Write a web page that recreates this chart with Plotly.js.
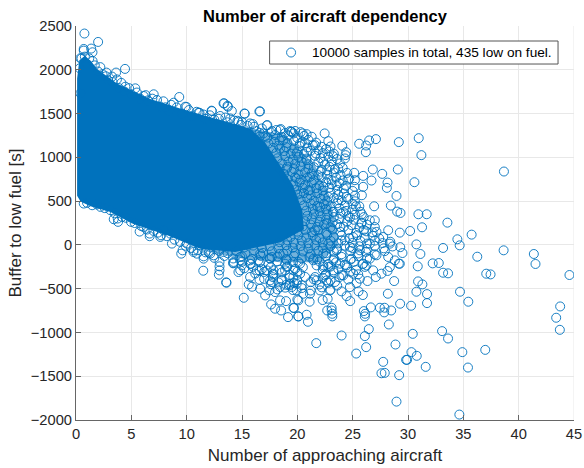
<!DOCTYPE html>
<html><head><meta charset="utf-8">
<script src="https://cdn.plot.ly/plotly-3.0.1.min.js"></script>
<style>html,body{margin:0;padding:0;background:#fff}#c{width:584px;height:468px}</style></head>
<body><div id="c"></div><script>
const titleText='Number of aircraft dependency';
const xLabel='Number of approaching aircraft';
const yLabel='Buffer to low fuel [s]';
const legendText='10000 samples in total, 435 low on fuel.';
const denseOutline=[[0.1,560],[0.1,1900],[0.3,2110],[0.8,2160],[1.35,2100],[1.9,2010],[3.74,1840],[6.72,1665],[9.69,1545],[12.76,1435],[15.73,1330],[17.09,1170],[18.44,900],[19.61,680],[20.42,400],[20.6,180],[18.5,30],[14.38,-80],[11.23,-45],[8.25,110],[5.18,240],[3.11,375],[1.31,440],[0.41,495],[0.1,560]];
const speckleOutline=[[15.73,1334],[18.89,1254],[21.6,911],[23.13,453],[23.67,-5],[22.05,-199],[18.44,-199],[14.83,-153],[11.23,-62],[15,500],[15.73,1334]];
const topEdge=[[0.76,2414],[2.0,2318],[0.7,2238],[1.37,2242],[0.7,2219],[1.49,2200],[4.43,2010],[2.75,1968],[3.62,1968],[3.26,1922],[4.46,1807],[5.36,1788],[6.11,1700],[7.02,1720],[9.33,1689],[8.82,1624],[9.99,1575],[12.25,1533],[13.39,1617],[13.72,1578],[14.08,1529],[15.25,1498],[16.63,1525],[17.24,1365],[18.5,1323],[19.34,1300],[11.07,1510],[7.32,1655],[8.07,1571],[13.03,1472],[14.59,1418],[15.97,1380],[0.5,2130],[0.8,2150],[1.2,2130],[1.5,2100],[1.7,2050],[2,1980],[2.4,1950],[2.9,1880],[3.3,1860],[3.9,1790],[4.4,1750],[5,1720],[5.8,1670],[6.5,1650],[7.6,1580],[8.4,1530],[9.6,1500],[10.5,1470],[11.7,1440],[12.5,1430],[13.7,1400],[14.9,1370],[16.3,1300],[16.8,1330],[0.4,1731],[0.34,2017],[0.4,2132],[9.87,1578],[13.33,1616],[13.69,1589],[15.22,1501],[16.57,1524],[12.28,1528],[11.16,1509],[17.29,1368],[18.44,1311],[19.43,1292],[20.48,1273],[16.93,1273],[18.74,1196],[19.64,1273],[15.73,1387],[14.68,1406],[13.93,1444],[17.39,1158],[18.44,1101],[19.94,1044],[20.69,1158],[19.04,872],[19.94,758],[20.84,967],[2.2,2030],[2.7,1925],[3.7,1890],[4.1,1850],[4.8,1790],[5.5,1740],[6.3,1710],[6.9,1670],[7.9,1640],[8.6,1600],[9.1,1570],[10.2,1540],[10.9,1520],[11.5,1490],[12.1,1480],[12.9,1440],[13.5,1455],[14.3,1420],[15,1400],[15.5,1360],[16.1,1350],[16.6,1280],[17.1,1240],[17.7,1300]];
const rightFringe=[[19.49,1292],[20.84,1265],[21.59,1139],[22.2,1120],[21.9,1082],[21.68,1044],[20.24,1158],[20.84,1063],[23.25,1013],[22.35,949],[23.85,930],[24.3,987],[22.71,853],[23.7,872],[21.9,796],[23.1,739],[21.14,777],[24.6,746],[25.2,739],[23.55,682],[22.35,663],[21.14,624],[20.24,586],[22.8,548],[24.45,548],[23.7,510],[22.05,434],[23.25,376],[24.15,376],[24.75,312],[25.8,243],[26.55,281],[23.85,205],[22.65,243],[21.59,167],[25.05,90],[24,52],[22.8,14],[27.15,148],[27.76,90],[26.55,14],[28.36,14],[25.65,-62],[24.75,-24],[23.55,-62],[22.35,-100],[27.15,-119],[28.21,-138],[28.81,-177],[26.25,-234],[24.45,-234],[22.8,-253],[21.74,-234]];
const speckleUpper=[[17.6,1285],[18.1,1312],[18.9,1278],[19.8,1301],[20.3,1288],[16.6,1238],[17.3,1226],[18,1255],[18.6,1232],[19.2,1248],[20,1221],[20.6,1244],[21.3,1235],[17.9,1176],[18.4,1192],[19.1,1164],[19.7,1187],[20.4,1171],[21,1199],[21.7,1168],[17.8,1108],[18.3,1134],[19,1116],[19.7,1101],[20.2,1129],[20.9,1112],[21.4,1138],[22.6,1095],[23,1124],[18.1,1052],[18.8,1071],[19.4,1043],[20,1066],[20.6,1038],[21.2,1075],[22.3,1049],[22.9,1068],[23.3,1041],[18.2,989],[18.9,1012],[19.6,976],[20.1,1004],[20.8,985],[21.6,1017],[22.1,992],[22.8,1009],[23.6,981],[18.6,931],[19.2,952],[19.8,926],[20.4,948],[21,921],[21.9,944],[22.5,919],[23.1,956],[18.4,873],[19.1,891],[19.7,866],[20.3,895],[21,871],[21.5,887],[22.2,859],[22.9,892],[23.4,864],[24.1,881],[18.8,811],[19.5,834],[20.1,806],[20.7,829],[21.3,815],[22.1,837],[22.7,803],[23.3,826],[23.9,798],[24.5,822],[19.1,751],[19.8,772],[20.3,744],[20.9,768],[21.5,739],[22.2,775],[22.8,748],[23.5,769],[24.1,735]];
const speckleMiddle=[[19.6,691],[20.2,713],[20.7,684],[21.3,708],[22,679],[22.6,716],[23.1,692],[23.8,704],[24.4,675],[19.9,632],[20.5,651],[21,623],[21.7,648],[22.3,619],[22.9,655],[23.6,628],[24.2,645],[25,616],[20,574],[20.6,592],[21.2,566],[21.8,589],[22.4,561],[23,596],[23.7,571],[24.2,587],[25.2,563],[20.3,512],[20.9,533],[21.5,505],[22.1,528],[22.7,499],[23.3,536],[24,510],[24.6,526],[25.2,498],[20.6,451],[21.2,473],[21.8,444],[22.4,468],[23,439],[23.6,476],[24.3,448],[25,467],[25.6,441],[20.8,391],[21.4,412],[22,384],[22.6,409],[23.2,379],[23.8,417],[24.4,388],[25,405],[25.7,378],[20.9,332],[21.5,351],[22.1,325],[22.7,348],[23.3,318],[23.9,356],[24.6,329],[25.2,345],[26,317],[20.7,271],[21.3,293],[22,264],[22.6,288],[23.2,259],[23.8,296],[24.5,268],[25.1,287],[25.8,256],[20.5,212],[21.2,233],[21.8,205],[22.4,229],[23,199],[23.6,236],[24.2,208],[24.9,226],[25.6,197],[26.3,231],[27,204]];
const speckleLower=[[20,151],[20.7,172],[21.3,145],[21.9,169],[22.6,139],[23.2,176],[23.9,148],[24.6,167],[25.3,137],[26,171],[26.8,143],[19.4,91],[20.1,112],[20.8,85],[21.4,108],[22,79],[22.7,116],[23.3,88],[24,107],[24.7,77],[25.4,111],[26.1,83],[26.8,104],[27.4,74],[18.4,31],[19.1,52],[19.7,25],[20.4,48],[21,19],[21.7,56],[22.3,28],[23,47],[23.7,17],[24.3,51],[25,23],[25.7,44],[26.3,15],[27,49],[27.7,21],[28.4,36],[15.2,-29],[16,-8],[16.8,-35],[17.5,-12],[18.3,-41],[19,-4],[19.6,-32],[20.3,-13],[21,-43],[21.6,-6],[22.3,-34],[23,-15],[23.6,-45],[24.3,-9],[25,-37],[25.6,-16],[26.3,-46],[27,-11],[27.8,-39],[28.6,-18],[29.3,-26],[12,-89],[12.9,-68],[13.7,-95],[14.5,-72],[15.3,-101],[16.1,-64],[16.9,-92],[17.7,-73],[18.4,-103],[19.1,-66],[19.8,-94],[20.5,-75],[21.2,-105],[21.9,-67],[22.6,-96],[23.3,-77],[24,-107],[24.8,-69],[25.5,-98],[26.2,-79],[27,-109],[27.9,-71],[12.5,-148],[13.4,-127],[14.2,-155],[15,-132],[15.9,-161],[16.7,-124],[17.5,-152],[18.2,-133],[19,-163],[19.7,-126],[20.4,-154],[21.1,-135],[21.8,-165],[22.6,-127],[23.3,-156],[24,-137],[24.8,-167],[25.5,-129],[26.3,-158]];
const lowerFringe=[[19.94,-443],[20.54,-558],[21.74,-405],[22.5,-348],[23.25,-291],[24.15,-348],[25.05,-329],[25.95,-215],[26.85,-291],[27.6,-329],[28.36,-253],[19.64,-291],[20.24,-215],[22.05,-520],[21.14,-558],[22.95,-520],[24.75,-482],[25.65,-386],[23.85,-215],[22.35,-253],[21.44,-176],[23.25,-176],[24.9,-157],[26.55,-157],[29.26,-215],[20.09,-634],[19.49,-482],[9.51,-100],[11.5,-295],[12.97,-195],[12.97,-245],[12.97,-291],[12.91,-340],[13.57,-428],[13.6,-432],[14.23,-207],[14.68,-310],[14.98,-234],[15.16,-604],[15.61,-451],[15.91,-478],[15.73,-367],[16.64,-501],[16.58,-398],[16.58,-291],[17.09,-577],[17.48,-520],[17.63,-680],[17.99,-729],[18.53,-749],[19.16,-825],[19.64,-718],[20.09,-817],[18.98,-642],[18.44,-634],[17.99,-539],[17.69,-424],[17.84,-329],[19.28,-462],[19.94,-520],[18.59,-405],[19.64,-367],[18.89,-291],[17.24,-291],[15.73,-215],[16.48,-176],[17.54,-157],[19.04,-176],[11.53,-131],[10.62,-81],[14.83,-176],[11.53,-157],[12.13,-100],[13.33,-81],[14.24,-195],[14.84,-138],[14.84,-290],[15.74,-176],[16.64,-100],[16.34,-290],[17.69,-138],[17.84,-290],[18.74,-100],[19.04,-252],[20.1,-195],[20.25,-329],[21.45,-157],[22.35,-233],[21.6,-367],[22.65,-405],[19.34,-443],[17.54,-405],[18.44,-481],[14.2,-211],[15,-192],[15.8,-219],[16.6,-196],[17.4,-224],[18.2,-188],[18.9,-216],[19.6,-197],[22,-191],[22.8,-218],[23.5,-199],[24.3,-227],[25.1,-193],[25.9,-221],[15.2,-268],[16,-249],[16.8,-277],[17.6,-254],[18.4,-283],[19.1,-246],[19.8,-274],[20.5,-255],[22.3,-285],[23,-248],[23.7,-276],[24.5,-257],[25.3,-287],[26.1,-251],[16.2,-328],[17,-309],[17.8,-337],[18.6,-314],[19.3,-343],[20,-306],[22.6,-334],[23.3,-315],[24,-345],[24.8,-307],[25.5,-336],[17,-388],[17.8,-369],[18.6,-397],[19.3,-374],[20,-403],[20.7,-366],[21.5,-394],[22.3,-375],[23,-405],[23.8,-367],[24.6,-396],[17.6,-449],[18.3,-428],[19,-456],[19.7,-433],[20.4,-462],[21.2,-425],[22,-453],[22.8,-434],[23.6,-464],[18.2,-509],[18.9,-488],[19.6,-516],[20.4,-493],[21.2,-522],[22.2,-485],[23,-513]];
const leftLowerEdge=[[3.41,293],[3.8,263],[3.77,301],[4.97,263],[5.75,152],[6.66,99],[6.66,129],[7.62,91],[7.68,110],[8.67,15],[9.63,-62],[10.62,-62],[12.43,-119],[3.11,396],[2.21,434],[1.46,453],[0.7,472],[4.16,320],[6.1,205],[8.52,129],[7.92,167],[10.02,15],[10.92,-100],[11.22,-4],[1,480],[1.9,462],[2.6,420],[3.5,360],[4.5,310],[5.3,250],[5.9,215],[6.4,175],[7,160],[7.4,140],[8.2,100],[8.9,60],[9.4,35],[9.9,-10],[10.4,-35],[11,-60],[11.7,-85]];
const farPoints=[[22.47,1273],[22.8,1185],[24.06,1132],[25.59,1155],[26.49,1193],[27.1,1208],[26.22,1135],[26.19,1059],[24.42,1059],[24.36,1025],[29.17,1174],[30.97,1219],[31.21,1025],[38.67,838],[29.08,861],[26.82,861],[27.67,811],[30.58,716],[28.15,712],[28.09,651],[26.7,735],[25.95,788],[25.14,823],[24.69,758],[25.17,663],[25.95,663],[28.96,559],[25.83,567],[25.29,441],[26.94,441],[28.45,449],[29.02,380],[29.32,365],[30.94,350],[31.69,350],[33.56,254],[31.27,201],[30.19,159],[29.26,140],[28.21,167],[26.22,155],[27,281],[25.83,350],[35.75,117],[34.46,64],[34.67,-5],[33.17,-35],[36.26,-135],[38.64,-62],[41.37,-104],[41.52,-218],[30.76,6],[29.5,-93],[31.12,-104],[32.23,-211],[32.78,-207],[30.88,-245],[29.17,-215],[44.59,-344],[43.75,-703],[43.39,-832],[43.72,-970],[37.07,-329],[37.46,-337],[33.17,-318],[33.62,-325],[34.7,-535],[35.45,-649],[33.08,-985],[33.62,-1069],[34.91,-1225],[36.98,-1199],[35.42,-1401],[34.64,-1938],[31.6,-1393],[30.79,-1267],[30.31,-1225],[30.43,-1016],[30.28,-695],[31.72,-665],[31.72,-562],[31.3,-451],[30.91,-417],[30.76,-535],[29.29,-672],[28.75,-413],[28.18,-558],[28.48,-749],[27.88,-718],[27.46,-718],[27.85,-771],[26.64,-714],[26.01,-756],[26.13,-787],[26.1,-817],[28.27,-909],[26.46,-962],[26.1,-1042],[28.87,-1138],[26.22,-1168],[25.32,-1241],[24,-1035],[21.71,-1122],[27.76,-1336],[27.6,-1466],[27.9,-1462],[29.2,-1488],[28.96,-1790],[29.92,-1313],[29.83,-1313],[20.96,-878],[20.84,-798],[20.09,-817],[19.7,-722],[23.16,-817],[23.16,-787],[23.1,-749],[23.1,-718],[22.7,-749],[21.11,-649],[24.78,-642],[25.92,-573],[25.53,-531],[26.34,-413],[24,-531],[24.45,-585],[22.74,-615],[22.29,-630],[20,-623],[27.09,-367],[28.15,-298],[23.4,-424],[25.35,-436]];
const xTicks=[0,5,10,15,20,25,30,35,40,45];
const yTicks=[-2000,-1500,-1000,-500,0,500,1000,1500,2000,2500];
const samples=[...topEdge,...rightFringe,...speckleUpper,...speckleMiddle,...speckleLower,...lowerFringe,...leftLowerEdge,...farPoints];
const blue='#0072BD', ink='#262626';
const axisCommon={showgrid:true,gridcolor:'#e8e8e8',gridwidth:1,zeroline:false,showline:true,linecolor:'#666666',linewidth:1,ticks:'inside',ticklen:5,tickcolor:'#666666',tickwidth:1,tickfont:{family:'Liberation Sans',size:14.7,color:ink},mirror:false};
const W=584,H=468,L=75.5,T=26,PW=499,PH=393.7;
const fx=v=>(v-L)/PW, fy=v=>1-(v-T)/PH;
Plotly.newPlot('c',[
 {type:'scatter',mode:'lines',x:speckleOutline.map(p=>p[0]),y:speckleOutline.map(p=>p[1]),fill:'toself',fillcolor:'rgba(0,114,189,0.55)',line:{width:0,color:blue},showlegend:false,hoverinfo:'skip'},
 {type:'scatter',mode:'lines',x:denseOutline.map(p=>p[0]),y:denseOutline.map(p=>p[1]),fill:'toself',fillcolor:blue,line:{width:0,color:blue},showlegend:false,hoverinfo:'skip'},
 {type:'scatter',mode:'markers',name:legendText,x:samples.map(p=>p[0]),y:samples.map(p=>p[1]),marker:{symbol:'circle-open',size:9,color:blue,line:{width:0.9,color:blue}},showlegend:false}
],{
 width:W,height:H,paper_bgcolor:'#fff',plot_bgcolor:'#fff',
 margin:{l:L,r:9.5,t:T,b:48.3,pad:0},
 title:{text:'<b>'+titleText+'</b>',font:{family:'Liberation Sans',size:16.5,color:'#000'},x:0.5565,xanchor:'center',y:0.9645,yanchor:'middle'},
 xaxis:{...axisCommon,range:[0,45],tickvals:xTicks,title:{text:xLabel,font:{family:'Liberation Sans',size:17,color:ink},standoff:8}},
 yaxis:{...axisCommon,range:[-2000,2500],tickvals:yTicks,title:{text:yLabel,font:{family:'Liberation Sans',size:17,color:ink},standoff:4}},
 showlegend:false,
 shapes:[
  {type:'line',xref:'x',yref:'paper',x0:45,x1:45,y0:0,y1:1,line:{color:'#e8e8e8',width:1},layer:'below'},
  {type:'rect',xref:'paper',yref:'paper',x0:fx(269.5),x1:fx(558.5),y0:fy(64),y1:fy(41),fillcolor:'#fff',line:{color:'#555555',width:1}},
  {type:'circle',xref:'paper',yref:'paper',xsizemode:'pixel',ysizemode:'pixel',xanchor:fx(291),yanchor:fy(52.5),x0:-4.5,x1:4.5,y0:-4.5,y1:4.5,fillcolor:'rgba(0,0,0,0)',line:{color:blue,width:0.9}}
 ],
 annotations:[{xref:'paper',yref:'paper',x:fx(312),y:fy(52.5),xanchor:'left',yanchor:'middle',xshift:-2,showarrow:false,text:legendText,font:{family:'Liberation Sans',size:13.65,color:'#000'}}]
},{displayModeBar:false,staticPlot:true});
</script></body></html>
